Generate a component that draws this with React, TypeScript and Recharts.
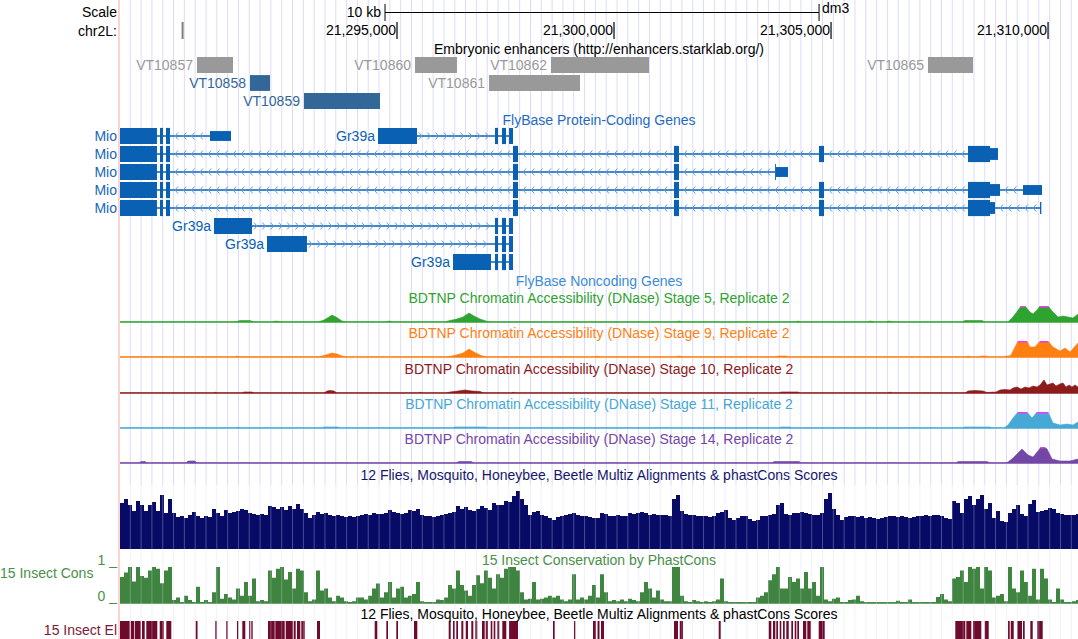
import React from 'react';
import { ComposedChart, Area, Line, XAxis, YAxis, ReferenceLine, ReferenceArea } from 'recharts';

const W = 1078;
const H = 639;
const LEFT = 120;
const FONT = '"Liberation Sans", Arial, Helvetica, sans-serif';

// window shown: chr2L
const VIEW_START = 21288618;
const VIEW_END = 21310690;

const RULER_TICKS = [21295000, 21300000, 21305000, 21310000];
const RULER_MARK = 21290060;
const SCALE_START = 21294724;
const SCALE_LEN = 10000;

const GRID_START = 21288855;
const GRID_STEP = 249.2;

const GENE = '#0a61b4';
const CHEVRON = '#5d9de0';
const S5 = '#2fa32f';
const S9 = '#ff7f12';
const S10 = '#8c1b1b';
const S11 = '#46a8d4';
const S14 = '#7447a6';
const NAVY = '#070b66';
const CONS = '#3f853f';
const ELEM = '#6e0a2c';
const CAP = '#ff33ff';

type Enh = { name: string; start: number; end: number; row: number; active: boolean };
const ENHANCERS: Enh[] = [
  { name: 'VT10857', start: 21290392, end: 21291222, row: 0, active: false },
  { name: 'VT10858', start: 21291613, end: 21292074, row: 1, active: true },
  { name: 'VT10859', start: 21292857, end: 21294608, row: 2, active: true },
  { name: 'VT10860', start: 21295415, end: 21296382, row: 0, active: false },
  { name: 'VT10861', start: 21297120, end: 21299216, row: 1, active: false },
  { name: 'VT10862', start: 21298548, end: 21300806, row: 0, active: false },
  { name: 'VT10865', start: 21307234, end: 21308271, row: 0, active: false },
];

type Exon = [number, number, 'cds' | 'mid' | 'utr'];
const MIO_TAIL: Exon[] = [[21288300, 21289470, 'cds'], [21289540, 21289609, 'cds'], [21289678, 21289770, 'cds']];
const MIO_MID: Exon[] = [[21297673, 21297788, 'cds'], [21301382, 21301497, 'cds']];
const GR39A_HEAD: Exon[] = [[21297258, 21297327, 'cds'], [21297419, 21297511, 'cds'], [21297581, 21297673, 'cds']];

type Tx = { name: string; strand: '+' | '-'; row: number; exons: Exon[] };
const TRANSCRIPTS: Tx[] = [
  { name: 'Mio', strand: '-', row: 0, exons: [...MIO_TAIL, [21290692, 21291175, 'utr']] },
  { name: 'Gr39a', strand: '+', row: 0, exons: [[21294562, 21295461, 'cds'], ...GR39A_HEAD] },
  { name: 'Mio', strand: '-', row: 1, exons: [...MIO_TAIL, ...MIO_MID, [21304723, 21304838, 'cds'], [21308156, 21308663, 'cds'], [21308663, 21308847, 'mid']] },
  { name: 'Mio', strand: '-', row: 2, exons: [...MIO_TAIL, ...MIO_MID, [21303709, 21303730, 'cds'], [21303730, 21304009, 'utr']] },
  { name: 'Mio', strand: '-', row: 3, exons: [...MIO_TAIL, ...MIO_MID, [21304723, 21304838, 'cds'], [21308156, 21308663, 'cds'], [21308663, 21308893, 'mid'], [21309423, 21309861, 'utr']] },
  { name: 'Mio', strand: '-', row: 4, exons: [...MIO_TAIL, ...MIO_MID, [21304723, 21304838, 'cds'], [21308156, 21308663, 'cds'], [21308663, 21308778, 'mid'], [21309815, 21309845, 'mid']] },
  { name: 'Gr39a', strand: '+', row: 5, exons: [[21290784, 21291659, 'cds'], ...GR39A_HEAD] },
  { name: 'Gr39a', strand: '+', row: 6, exons: [[21292005, 21292926, 'cds'], ...GR39A_HEAD] },
  { name: 'Gr39a', strand: '+', row: 7, exons: [[21296290, 21297166, 'cds'], ...GR39A_HEAD] },
];

// DNase signal, [position, signal]; 16 = display maximum
const STAGE5: [number, number][] = [
  [21288618, 0], [21291268, 0], [21291383, 1.5], [21291613, 1.5], [21291705, 0], [21292120, 0], [21292212, 1], [21292350, 0],
  [21293180, 0], [21293318, 2], [21293433, 5], [21293502, 7], [21293595, 5], [21293733, 1], [21293825, 0],
  [21294747, 0], [21294816, 1], [21294908, 0], [21296083, 0], [21296221, 1.5], [21296382, 3], [21296521, 5], [21296659, 9],
  [21296774, 6], [21296912, 3], [21297051, 1], [21297143, 0], [21301428, 0], [21301497, 1], [21301590, 0],
  [21304193, 0], [21304239, 1], [21304308, 0], [21305829, 0], [21305898, 1], [21306013, 0], [21306267, 0], [21306336, 1], [21306428, 0],
  [21308018, 0], [21308087, 1.5], [21308479, 1.5], [21308548, 0], [21309078, 0], [21309170, 4], [21309262, 9], [21309377, 16],
  [21309469, 16], [21309584, 10], [21309654, 8], [21309746, 12], [21309815, 16], [21309999, 16], [21310114, 10], [21310230, 5],
  [21310345, 6], [21310460, 5], [21310575, 4], [21310690, 8],
];
const STAGE9: [number, number][] = [
  [21288618, 0], [21291268, 0], [21291314, 1], [21291383, 0],
  [21293180, 0], [21293318, 1.5], [21293433, 3], [21293502, 4], [21293618, 3], [21293733, 1], [21293825, 0],
  [21296083, 0], [21296267, 1], [21296406, 2.5], [21296521, 4], [21296659, 8], [21296774, 5], [21296912, 2], [21297005, 0.5], [21297097, 0],
  [21299562, 0], [21299608, 1], [21299677, 0], [21301428, 0], [21301497, 1], [21301590, 0],
  [21303732, 0], [21303778, 1], [21303963, 1], [21304032, 0], [21308110, 0], [21308156, 1], [21308225, 0],
  [21308409, 0], [21308455, 1], [21308571, 1], [21308617, 0],
  [21308985, 0], [21309031, 1], [21309101, 1], [21309147, 2], [21309216, 8], [21309308, 16], [21309515, 16], [21309584, 10],
  [21309700, 10], [21309815, 16], [21309999, 16], [21310114, 10], [21310276, 6], [21310391, 9], [21310506, 5], [21310690, 14],
];
const STAGE10: [number, number][] = [
  [21288618, 0], [21290784, 0], [21290807, 1], [21290853, 0], [21291429, 0], [21291475, 1], [21291659, 1], [21291705, 0],
  [21293318, 0], [21293387, 2], [21293456, 2.5], [21293549, 2], [21293618, 0], [21295507, 0], [21295530, 1], [21295576, 0],
  [21296129, 0], [21296221, 1], [21296406, 2], [21296567, 3], [21296728, 2], [21296912, 1.5], [21297005, 0],
  [21297650, 0], [21297673, 1], [21297719, 0], [21303801, 0], [21303847, 1], [21304239, 1], [21304285, 0],
  [21306313, 0], [21306359, 1], [21306405, 0],
  [21308087, 0], [21308156, 2], [21308317, 2.5], [21308502, 2], [21308594, 0.5], [21308801, 1], [21308893, 3], [21309008, 3.5],
  [21309124, 3], [21309193, 5], [21309285, 6], [21309377, 4], [21309469, 6], [21309561, 5], [21309654, 7], [21309746, 6],
  [21309815, 8], [21309907, 13], [21309976, 8], [21310045, 9], [21310114, 10], [21310183, 7], [21310276, 9], [21310345, 10],
  [21310414, 6], [21310483, 8], [21310552, 6], [21310621, 8], [21310690, 6],
];
const STAGE11: [number, number][] = [
  [21288618, 0], [21291291, 0], [21291337, 1], [21291383, 0], [21293272, 0], [21293318, 1], [21293641, 1], [21293687, 0],
  [21296290, 0], [21296336, 1], [21297051, 1], [21297097, 0], [21303801, 0], [21303847, 1], [21304055, 1], [21304101, 0],
  [21308018, 0], [21308064, 1], [21308663, 1], [21308709, 0],
  [21308985, 0], [21309078, 3], [21309193, 10], [21309308, 16], [21309515, 16], [21309630, 10], [21309746, 16], [21309999, 16],
  [21310114, 5], [21310276, 3], [21310437, 4], [21310575, 3], [21310690, 6],
];
const STAGE14: [number, number][] = [
  [21288618, 0], [21289056, 0], [21289102, 1.5], [21289194, 1.5], [21289240, 0], [21290139, 0], [21290185, 2], [21290346, 2], [21290392, 0],
  [21296359, 0], [21296429, 1.5], [21296705, 1.5], [21296774, 0], [21303640, 0], [21303686, 1.5], [21304262, 1.5], [21304308, 0],
  [21307879, 0], [21307926, 1.5], [21308594, 1.5], [21308663, 0],
  [21309008, 0], [21309078, 1], [21309193, 5], [21309308, 10], [21309400, 14], [21309538, 8], [21309654, 6], [21309769, 12],
  [21309838, 16], [21309907, 16], [21309976, 14], [21310091, 4], [21310276, 2], [21310506, 2], [21310690, 4],
];

// conservation, fixed-step bins
const BIN_START = 21288618;
const BIN_STEP = 92.16;
const MULTIZ = [
  46, 50, 44, 38, 48, 44, 38, 44, 47, 38, 54, 36, 50, 36, 32, 33, 31, 34, 37, 33,
  31, 33, 32, 40, 36, 33, 39, 36, 37, 38, 40, 39, 36, 35, 34, 35, 34, 43, 42, 40,
  42, 39, 43, 40, 45, 40, 36, 31, 34, 37, 35, 36, 34, 33, 34, 33, 32, 33, 32, 33,
  34, 35, 34, 36, 35, 35, 36, 39, 37, 36, 35, 36, 39, 38, 40, 34, 33, 33, 32, 33,
  34, 35, 36, 37, 43, 40, 42, 39, 38, 40, 43, 41, 39, 46, 44, 44, 48, 47, 53, 58,
  50, 44, 34, 37, 38, 34, 33, 31, 29, 32, 33, 34, 35, 36, 34, 33, 33, 32, 31, 31,
  36, 35, 33, 33, 34, 33, 33, 36, 35, 36, 37, 36, 34, 35, 34, 34, 34, 33, 50, 54,
  38, 35, 34, 34, 33, 33, 33, 32, 33, 36, 37, 39, 31, 29, 31, 33, 33, 30, 28, 29,
  33, 33, 34, 35, 44, 46, 35, 34, 36, 36, 37, 36, 35, 34, 34, 36, 50, 56, 40, 34,
  29, 32, 33, 33, 32, 33, 31, 32, 31, 30, 31, 32, 33, 33, 32, 33, 32, 31, 32, 33,
  33, 34, 33, 34, 34, 33, 31, 30, 48, 46, 36, 50, 53, 44, 50, 54, 40, 46, 31, 38,
  28, 27, 36, 40, 44, 35, 33, 45, 49, 37, 38, 39, 41, 40, 36, 35, 34, 34, 34, 35,
];
const PHASTCONS = [
  0.72, 0.85, 1, 0.6, 1, 0.75, 0.7, 0.9, 1, 0.95, 0.55, 0.9, 1, 0.08, 0.15, 0.02, 0.2, 0.08, 0.03, 0.45,
  0.03, 0.08, 0.02, 0.3, 1, 0.12, 0.25, 0.15, 0.1, 0.4, 0.2, 0.58, 0.2, 0.68, 0.05, 0.08, 0.05, 0.9, 0.7, 0.95,
  1, 0.65, 0.86, 0.4, 0.95, 0.9, 0.3, 0.05, 0.1, 0.9, 0.35, 0.4, 0.15, 0.05, 0.2, 0.15, 0.05, 0.03, 0.05, 0.15,
  0.15, 0.1, 0.2, 0.4, 0.54, 0.15, 0.3, 0.58, 0.15, 0.4, 0.45, 0.15, 0.2, 0.25, 0.58, 0.05, 0.02, 0.03, 0.02, 0.1,
  0.08, 0.15, 0.5, 0.4, 0.9, 0.5, 0.35, 0.2, 0.5, 0.77, 0.55, 0.9, 0.7, 0.4, 0.8, 0.7, 0.95, 1, 1, 0.9,
  0.3, 0.1, 0.12, 0.58, 0.1, 0.12, 0.15, 0.2, 0.15, 0.2, 0.1, 0.05, 0.1, 0.8, 0.1, 0.15, 0.1, 0.2, 0.5, 0.15,
  0.8, 0.3, 0.05, 0.08, 0.05, 0.1, 0.05, 0.12, 0.08, 0.05, 0.3, 0.58, 0.4, 0.15, 0.35, 0.1, 0.05, 0.05, 1, 1,
  0.2, 0.05, 0.03, 0.08, 0.05, 0.03, 0.05, 0.03, 0.05, 0.1, 0.68, 0.05, 0.02, 0.02, 0.03, 0.02, 0.02, 0.03, 0.02, 0.15,
  0.2, 0.3, 0.63, 0.8, 1, 0.4, 0.4, 0.72, 0.58, 0.68, 0.4, 0.86, 0.4, 0.58, 0.2, 1, 0.1, 0.05, 0.12, 0.15,
  0.03, 0.03, 0.08, 0.1, 0.2, 0.05, 0.02, 0.02, 0.02, 0.02, 0.02, 0.02, 0.02, 0.02, 0.06, 0.03, 0.02, 0.1, 0.02, 0.02,
  0.02, 0.02, 0.02, 0.03, 0.17, 0.25, 0.1, 0.05, 0.68, 0.72, 0.9, 0.58, 1, 0.95, 1, 0.4, 1, 0.9, 0.15, 0.2,
  0.25, 0.05, 1, 0.4, 0.3, 0.9, 0.58, 0.2, 0.95, 0.1, 0.95, 0.68, 0.1, 0.03, 0.4, 0.1, 0.03, 0.03, 0.05, 0.08,
];
const ELEMENTS: [number, number][] = [
  [21288500, 21288841], [21288865, 21288941], [21288957, 21289095], [21289125, 21289187], [21289224, 21289477],
  [21289533, 21289625], [21289685, 21289800], [21290362, 21290404], [21290814, 21290846], [21291067, 21291099],
  [21291314, 21291344], [21291436, 21291505], [21291590, 21291620], [21291643, 21291675], [21292028, 21292182],
  [21292196, 21292413], [21292436, 21292604], [21292620, 21292666], [21292696, 21292772], [21292795, 21292873],
  [21293157, 21293226], [21294486, 21294546], [21294754, 21294793], [21294984, 21295023], [21295392, 21295468],
  [21296191, 21296237], [21296290, 21296330], [21296366, 21296406], [21296482, 21296528], [21296583, 21296636],
  [21296712, 21296758], [21296804, 21296850], [21296958, 21297021], [21297044, 21297097], [21297159, 21297196],
  [21297228, 21297265], [21297311, 21297357], [21297426, 21297518], [21297581, 21297788], [21298594, 21298633],
  [21299078, 21299108], [21299516, 21299585], [21299620, 21299666], [21299700, 21299769],
  [21301382, 21301474], [21301514, 21301590], [21302412, 21302458], [21303564, 21303624], [21303663, 21303716],
  [21303739, 21303778], [21303817, 21303854], [21303894, 21303933], [21303970, 21304025], [21304085, 21304124],
  [21304163, 21304200], [21304223, 21304262], [21304354, 21304430], [21304453, 21304532], [21304716, 21304854],
  [21307863, 21308094], [21308117, 21308232], [21308271, 21308462], [21308541, 21308633], [21309078, 21309117],
  [21309140, 21309209], [21309292, 21309400], [21309423, 21309462], [21309591, 21309647], [21309753, 21309877],
];

const GRID: number[] = [];
for (let p = GRID_START; p < VIEW_END; p += GRID_STEP) GRID.push(p);

const EDGE = [{ pos: VIEW_START }, { pos: VIEW_END }];
const EXON_H = { cds: 0.9, mid: 0.66, utr: 0.55 };
const fmt = (n: number) => n.toLocaleString('en-US');

const binned = (vals: number[]) => [
  ...vals.map((v, i) => ({ pos: BIN_START + i * BIN_STEP, v })),
  { pos: VIEW_END, v: vals[vals.length - 1] },
];
const signal = (pts: [number, number][]) => pts.map(([pos, v]) => ({ pos, v, cap: v >= 16 ? 16 : null }));

function Band({ top, height, yDomain, data = EDGE, reversed = false, bottom = 0, children }: any) {
  return (
    <div style={{ position: 'absolute', left: 0, top, width: W, height }}>
      <ComposedChart width={W} height={height} data={data} margin={{ top: 0, right: 0, bottom, left: LEFT }}>
        <XAxis dataKey="pos" type="number" domain={[VIEW_START, VIEW_END]} allowDataOverflow hide />
        <YAxis type="number" domain={yDomain} reversed={reversed} allowDataOverflow hide />
        {children}
      </ComposedChart>
    </div>
  );
}

function Txt({ x, y, anchor = 'start', color = '#000', children }: any) {
  const style: React.CSSProperties = {
    position: 'absolute', top: y - 8, fontSize: 14, lineHeight: '16px', color, whiteSpace: 'nowrap',
  };
  if (anchor === 'end') style.right = W - x;
  else if (anchor === 'middle') { style.left = x - 400; style.width = 800; style.textAlign = 'center'; }
  else style.left = x;
  return <div style={style}>{children}</div>;
}

const intronShape = (strand: '+' | '-') => (p: any) => {
  const { x1, x2, y1 } = p;
  const a = Math.min(x1, x2);
  const b = Math.max(x1, x2);
  const d = strand === '-' ? 3 : -3;
  const marks = [];
  for (let x = a + 5; x < b - 3; x += 8.3) {
    marks.push(
      <polyline key={x} points={`${x + d},${y1 - 3.5} ${x},${y1} ${x + d},${y1 + 3.5}`} fill="none" stroke={CHEVRON} strokeWidth={1} />
    );
  }
  return (
    <g>
      <line x1={a} y1={y1} x2={b} y2={y1} stroke={GENE} strokeWidth={1.5} />
      {marks}
    </g>
  );
};

function geneMarks() {
  const out: React.ReactNode[] = [];
  TRANSCRIPTS.forEach((t, ti) => {
    const ex = [...t.exons].sort((a, b) => a[0] - b[0]);
    const yc = t.row + 0.5;
    for (let i = 0; i < ex.length - 1; i++) {
      const a = ex[i][1];
      const b = ex[i + 1][0];
      if (b - a > 40) {
        out.push(
          <ReferenceLine key={`in${ti}-${i}`} segment={[{ x: a, y: yc }, { x: b, y: yc }]} shape={intronShape(t.strand)} ifOverflow="visible" />
        );
      }
    }
    ex.forEach(([s, e, kind], i) => {
      const h = EXON_H[kind];
      const label = i === 0 && t.name === 'Gr39a'
        ? { value: t.name, position: 'left', offset: 3, fill: GENE, fontSize: 14 }
        : undefined;
      out.push(
        <ReferenceArea key={`ex${ti}-${i}`} x1={s} x2={e} y1={yc - h / 2} y2={yc + h / 2} fill={GENE} fillOpacity={1}
          stroke="none" ifOverflow="hidden" label={label as any} />
      );
    });
  });
  return out;
}

function DnaseTrack({ baseline, color, points }: { baseline: number; color: string; points: [number, number][] }) {
  return (
    <Band top={baseline - 16} height={18} bottom={2} yDomain={[0, 16]} data={signal(points)}>
      <ReferenceLine y={0} stroke={color} strokeWidth={1.3} />
      <Area type="linear" dataKey="v" stroke={color} strokeWidth={0.6} fill={color} fillOpacity={1} baseValue={0} isAnimationActive={false} />
      <Line type="linear" dataKey="cap" stroke={CAP} strokeWidth={3} dot={false} isAnimationActive={false} />
    </Band>
  );
}

const TITLES: [string, number, string][] = [
  ['Embryonic enhancers (http://enhancers.starklab.org/)', 49, '#000'],
  ['FlyBase Protein-Coding Genes', 120, '#1f6cbf'],
  ['FlyBase Noncoding Genes', 281, '#3d8bd6'],
  ['BDTNP Chromatin Accessibility (DNase) Stage 5, Replicate 2', 298, S5],
  ['BDTNP Chromatin Accessibility (DNase) Stage 9, Replicate 2', 333, S9],
  ['BDTNP Chromatin Accessibility (DNase) Stage 10, Replicate 2', 368.5, S10],
  ['BDTNP Chromatin Accessibility (DNase) Stage 11, Replicate 2', 403.5, S11],
  ['BDTNP Chromatin Accessibility (DNase) Stage 14, Replicate 2', 438.5, S14],
  ['12 Flies, Mosquito, Honeybee, Beetle Multiz Alignments & phastCons Scores', 474.5, '#16166e'],
  ['15 Insect Conservation by PhastCons', 559.5, '#4a8f4a'],
  ['12 Flies, Mosquito, Honeybee, Beetle Multiz Alignments & phastCons Scores', 613.5, '#000'],
];

export default function App() {
  return (
    <div style={{ position: 'absolute', left: 0, top: 0, width: W, height: H, overflow: 'hidden', background: '#fff', fontFamily: FONT }}>
      {/* guidelines behind the upper tracks */}
      <Band top={0} height={485} yDomain={[0, 1]}>
        {GRID.map((g) => <ReferenceLine key={g} x={g} stroke="#dcdcfa" strokeWidth={1} />)}
      </Band>
      <div style={{ position: 'absolute', left: 117.5, top: 0, width: 2, height: H, background: '#ffd2d2' }} />

      {/* scale bar */}
      <Band top={4} height={17} yDomain={[0, 1]}>
        <ReferenceLine segment={[{ x: SCALE_START, y: 0.5 }, { x: SCALE_START + SCALE_LEN, y: 0.5 }]} stroke="#000" strokeWidth={1}
          label={{ value: '10 kb', position: 'left', offset: 4, fill: '#000', fontSize: 14 }} />
        <ReferenceLine x={SCALE_START} stroke="#000" />
        <ReferenceLine x={SCALE_START + SCALE_LEN} stroke="#000" />
      </Band>

      {/* base position ruler */}
      <Band top={22} height={17} yDomain={[0, 1]}>
        <ReferenceLine x={RULER_MARK} stroke="#808080" strokeWidth={2} />
        {RULER_TICKS.map((t) => (
          <ReferenceLine key={t} x={t} stroke="#000" strokeWidth={1.2}
            label={{ value: fmt(t), position: 'left', offset: 1, fill: '#000', fontSize: 14 }} />
        ))}
      </Band>

      {/* enhancers */}
      <Band top={56} height={54} yDomain={[0, 3]} reversed>
        {ENHANCERS.map((e) => {
          const c = e.active ? '#336699' : '#999999';
          return (
            <ReferenceArea key={e.name} x1={e.start} x2={e.end} y1={e.row + 0.06} y2={e.row + 0.94} fill={c} fillOpacity={1} stroke="none"
              label={{ value: e.name, position: 'left', offset: 4, fill: c, fontSize: 14 } as any} />
          );
        })}
      </Band>

      {/* genes */}
      <Band top={127} height={144} yDomain={[0, 8]} reversed>
        {geneMarks()}
      </Band>

      <DnaseTrack baseline={322} color={S5} points={STAGE5} />
      <DnaseTrack baseline={357} color={S9} points={STAGE9} />
      <DnaseTrack baseline={392.5} color={S10} points={STAGE10} />
      <DnaseTrack baseline={427.5} color={S11} points={STAGE11} />
      <DnaseTrack baseline={462.5} color={S14} points={STAGE14} />

      {/* multiz conservation */}
      <Band top={487.5} height={61} yDomain={[0, 61]} data={binned(MULTIZ)}>
        <Area type="stepAfter" dataKey="v" stroke="none" fill={NAVY} fillOpacity={1} baseValue={0} isAnimationActive={false} />
      </Band>

      {/* phastCons */}
      <Band top={567} height={37} bottom={1} yDomain={[0, 1]} data={binned(PHASTCONS)}>
        <ReferenceLine y={0} stroke={CONS} strokeWidth={1.5} />
        <Area type="stepAfter" dataKey="v" stroke="none" fill={CONS} fillOpacity={1} baseValue={0} isAnimationActive={false} />
      </Band>

      {/* conserved elements */}
      <Band top={620.5} height={18.5} yDomain={[0, 1]}>
        {ELEMENTS.map(([s, e]) => (
          <ReferenceArea key={s} x1={s} x2={e} y1={0} y2={1} fill={ELEM} fillOpacity={1} stroke="none" ifOverflow="hidden" />
        ))}
      </Band>

      {/* guidelines drawn over the lower tracks */}
      <Band top={485} height={154} yDomain={[0, 1]}>
        {GRID.map((g) => <ReferenceLine key={g} x={g} stroke="#d4d4ff" strokeOpacity={0.32} strokeWidth={1} />)}
      </Band>

      <Txt x={117} y={12} anchor="end">Scale</Txt>
      <Txt x={117} y={31} anchor="end">chr2L:</Txt>
      <Txt x={822} y={8}>dm3</Txt>
      {TITLES.map(([t, y, c], i) => <Txt key={i} x={599} y={y} anchor="middle" color={c}>{t}</Txt>)}
      {[0, 1, 2, 3, 4].map((r) => <Txt key={r} x={117} y={136 + r * 18} anchor="end" color="#1666ba">Mio</Txt>)}
      <Txt x={0} y={573} color="#4a8f4a">15 Insect Cons</Txt>
      <Txt x={117} y={560} anchor="end" color="#4a8f4a">1 _</Txt>
      <Txt x={117} y={596} anchor="end" color="#4a8f4a">0 _</Txt>
      <Txt x={117} y={630} anchor="end" color="#7a1a3a">15 Insect El</Txt>
    </div>
  );
}
